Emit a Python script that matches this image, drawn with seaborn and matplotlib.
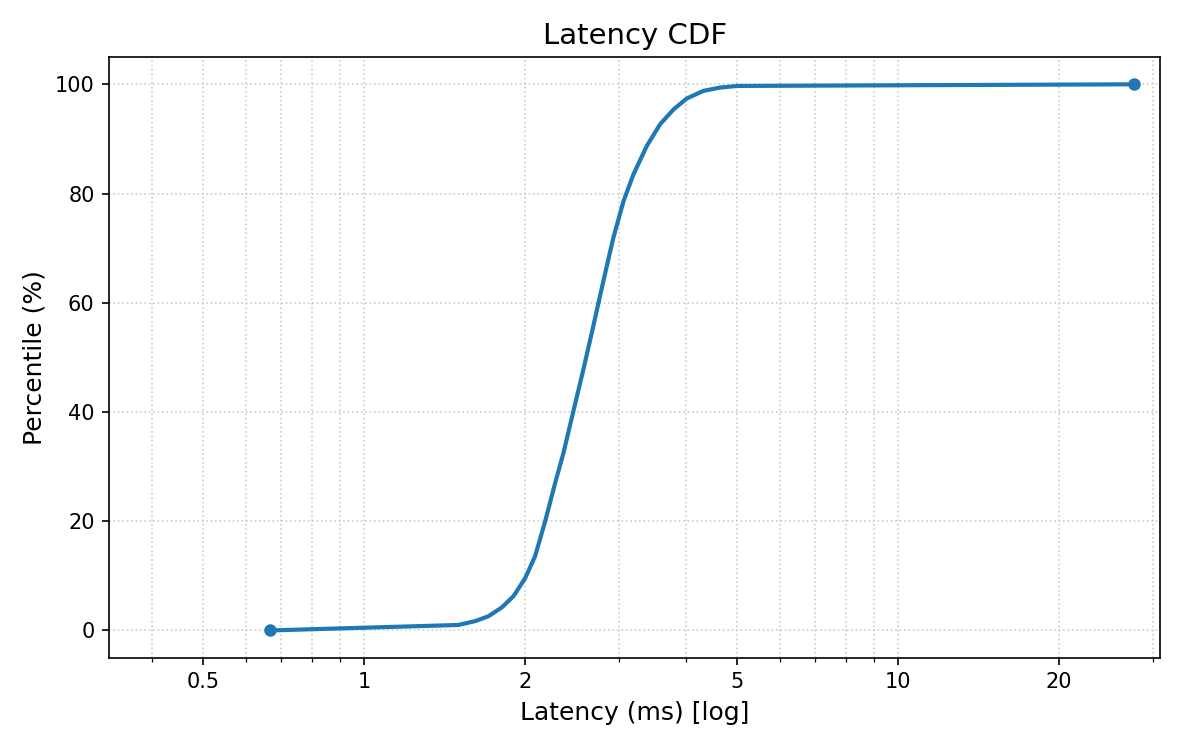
import numpy as np
import pandas as pd
import seaborn as sns
import matplotlib
matplotlib.use("Agg")
import matplotlib.pyplot as plt
from matplotlib.ticker import FixedLocator, LogLocator, FuncFormatter, NullFormatter

# latency percentiles
latency_ms = [0.667, 1.50, 1.614, 1.709, 1.81, 1.905, 2.003, 2.09, 2.183,
              2.279, 2.362, 2.466, 2.574, 2.669, 2.806, 2.929, 3.060, 3.194,
              3.383, 3.584, 3.797, 4.02, 4.32, 4.64, 4.99, 27.7]
percentile = [0.0, 1.0, 1.7, 2.6, 4.2, 6.3, 9.6, 13.6, 20.0,
              27.0, 32.5, 40.2, 47.8, 54.5, 64.0, 71.9, 78.6, 83.5,
              88.7, 92.7, 95.4, 97.4, 98.8, 99.4, 99.7, 100.0]
x_ticks = [0.5, 1, 2, 5, 10, 20]

df = pd.DataFrame({"latency": latency_ms, "pct": percentile})

sns.set_theme(style="ticks", rc={
    "axes.edgecolor": "black",
    "axes.linewidth": 0.8,
    "text.color": "black", "axes.labelcolor": "black",
    "xtick.color": "black", "ytick.color": "black",
    "xtick.major.size": 3.5, "ytick.major.size": 3.5,
    "xtick.minor.size": 2, "xtick.major.width": 0.8,
    "ytick.major.width": 0.8, "xtick.minor.width": 0.6,
    "xtick.labelsize": 10, "ytick.labelsize": 10,
    "axes.labelsize": 12, "axes.titlesize": 14,
})
plt.rcParams['font.family'] = ['DejaVu Sans']

fig, ax = plt.subplots(figsize=(8, 5), dpi=150)
sns.lineplot(data=df, x="latency", y="pct", ax=ax, color="#1f77b4",
             linewidth=2, marker="o", markersize=6, markeredgewidth=0,
             markevery=[0, len(df) - 1])

ax.set_xscale("log")
ax.set_xlim(0.333, 31.0)
ax.set_ylim(-5, 105)
ax.xaxis.set_major_locator(FixedLocator(x_ticks))
ax.xaxis.set_major_formatter(FuncFormatter(lambda v, p: "{:g}".format(v)))
ax.xaxis.set_minor_locator(LogLocator(base=10, subs=np.arange(2, 10)))
ax.xaxis.set_minor_formatter(NullFormatter())
ax.set_yticks([0, 20, 40, 60, 80, 100])

ax.grid(True, which="both", linestyle=":", color="#cccccc", linewidth=0.8)
ax.set_xlabel("Latency (ms) [log]")
ax.set_ylabel("Percentile (%)")
ax.set_title("Latency CDF")

fig.subplots_adjust(left=0.091, right=0.967, top=0.924, bottom=0.123)
fig.savefig("out.png", dpi=150)
